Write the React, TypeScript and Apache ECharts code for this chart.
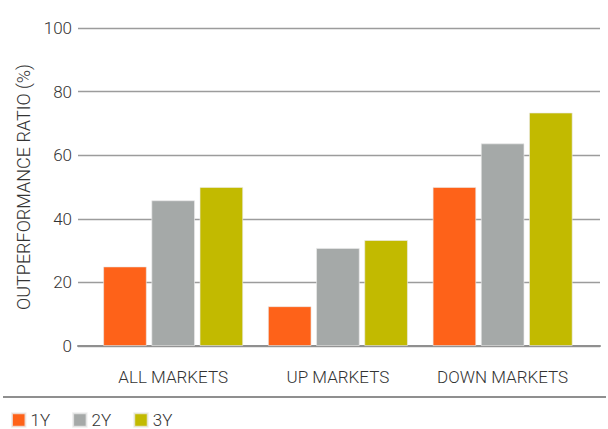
import React, { useEffect, useRef } from "react";
import * as echarts from "echarts";

const categories = ["ALL MARKETS", "UP MARKETS", "DOWN MARKETS"];
const seriesNames = ["1Y", "2Y", "3Y"];
const values1Y = [25, 12.5, 50];
const values2Y = [45.8, 30.8, 63.7];
const values3Y = [50, 33.3, 73.4];
const colors = ["#FE6219", "#A5A9A8", "#C2BA00"];
const yTicks = { min: 0, max: 100, interval: 20 };

const FONT = "Roboto";
const FW = 300;
const TXT = "#333333";

export default function App() {
  const ref = useRef<HTMLDivElement>(null);
  useEffect(() => {
    if (!ref.current) return;
    const chart = echarts.init(ref.current, null, { renderer: "svg" });
    const data = [values1Y, values2Y, values3Y];
    chart.setOption({
      animation: false,
      textStyle: { fontFamily: FONT, fontWeight: FW },
      grid: [
        { left: 78, right: 8, top: 28, bottom: 83 },
        { left: 90.8, right: 23, top: 28, bottom: 83 },
      ],
      legend: {
        data: seriesNames,
        left: 6,
        top: 406,
        padding: 5,
        icon: "rect",
        itemWidth: 13.5,
        itemHeight: 13.5,
        itemGap: 22,
        textStyle: { fontFamily: FONT, fontWeight: FW, fontSize: 17, lineHeight: 17, color: TXT, padding: [1, 0, 0, 0] },
      },
      xAxis: [
        {
          type: "category",
          gridIndex: 0,
          data: [""],
          axisLabel: { show: false },
          axisTick: { show: false },
          axisLine: { show: true, lineStyle: { color: "#8f8f8f", width: 2 } },
        },
        {
          type: "category",
          gridIndex: 1,
          data: categories,
          axisLine: { show: false },
          axisTick: { show: false },
          axisLabel: {
            interval: 0,
            margin: 22,
            fontFamily: FONT,
            fontWeight: FW,
            fontSize: 17,
            color: TXT,
          },
        },
      ],
      yAxis: [
        {
          type: "value",
          gridIndex: 0,
          min: yTicks.min,
          max: yTicks.max,
          interval: yTicks.interval,
          name: "OUTPERFORMANCE RATIO (%)",
          nameLocation: "middle",
          nameRotate: 90,
          nameGap: 42,
          nameTextStyle: { fontFamily: FONT, fontWeight: FW, fontSize: 18, color: TXT },
          axisLine: { show: false },
          axisTick: { show: false },
          axisLabel: { margin: 6, fontFamily: FONT, fontWeight: FW, fontSize: 17, color: TXT },
          splitLine: { show: true, lineStyle: { color: "#9c9c9c", width: 1.3 } },
        },
        {
          type: "value",
          gridIndex: 1,
          min: yTicks.min,
          max: yTicks.max,
          interval: yTicks.interval,
          show: false,
          splitLine: { show: false },
        },
      ],
      series: seriesNames.map((name, i) => ({
        name,
        type: "bar",
        xAxisIndex: 1,
        yAxisIndex: 1,
        data: data[i],
        barWidth: 43.5,
        barGap: "10.8%",
        itemStyle: { color: colors[i], borderColor: "rgba(235,235,235,0.8)", borderWidth: 0.8 },
      })),
      graphic: [
        {
          type: "line",
          shape: { x1: 3, y1: 397, x2: 606, y2: 397 },
          style: { stroke: "#8f8f8f", lineWidth: 2 },
        },
      ],
    });
    return () => chart.dispose();
  }, []);
  return <div ref={ref} style={{ width: 608, height: 429, position: "absolute", left: 0, top: 0 }} />;
}
